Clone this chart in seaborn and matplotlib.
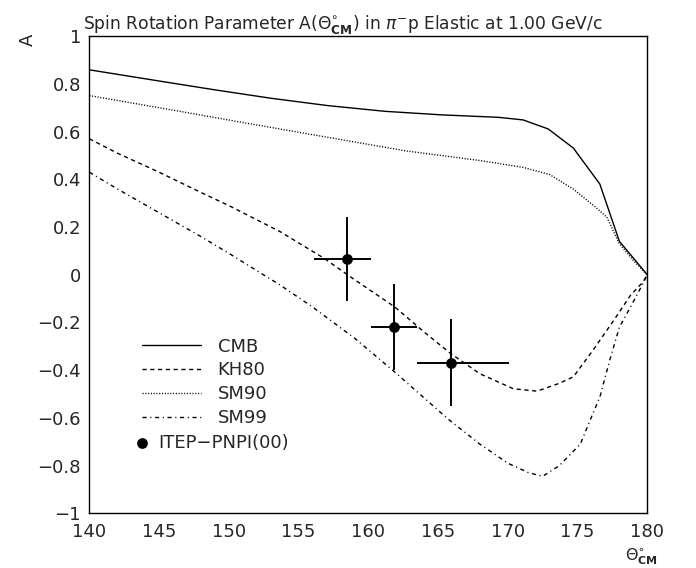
import numpy as np
import pandas as pd
import seaborn as sns
import matplotlib.pyplot as plt
from matplotlib.ticker import MultipleLocator, FuncFormatter

# curves (theta in deg, A)
cmb_x = [140, 144.8, 148.9, 153, 157.1, 161.2, 165.3, 169.3, 171.1, 172.9, 174.7, 176.6, 178, 180]
cmb_y = [0.859, 0.814, 0.776, 0.740, 0.709, 0.685, 0.670, 0.660, 0.649, 0.611, 0.531, 0.380, 0.14, 0.0]

kh80_x = [140, 142, 145, 148, 150, 153.7, 156.8, 159, 161.9, 164, 165.9, 168, 170.4, 172.1,
          173.7, 174.7, 176.1, 177.6, 178.8, 179.7, 180]
kh80_y = [0.57, 0.51, 0.43, 0.345, 0.29, 0.18, 0.07, -0.02, -0.135, -0.24, -0.33, -0.415, -0.478, -0.488,
          -0.455, -0.428, -0.317, -0.191, -0.086, -0.03, 0.0]

sm90_x = [140, 146.2, 151.6, 157.1, 162.6, 168.1, 171.1, 173, 174.7, 176.3, 177.1, 178, 179, 180]
sm90_y = [0.751, 0.688, 0.632, 0.576, 0.520, 0.478, 0.450, 0.420, 0.359, 0.283, 0.241, 0.13, 0.06, 0.0]

sm99_x = [140, 142, 145, 148, 150, 153.7, 156, 159, 161.9, 165.7, 168, 170, 171.5, 172.5,
          173.7, 175.2, 175.9, 176.6, 177.3, 178, 178.8, 179.5, 180]
sm99_y = [0.43, 0.36, 0.26, 0.16, 0.09, -0.044, -0.135, -0.265, -0.408, -0.604, -0.71, -0.79, -0.83, -0.845,
          -0.80, -0.71, -0.61, -0.513, -0.36, -0.22, -0.135, -0.058, 0.0]

# ITEP-PNPI(00) data: bin edges, centres, values, errors
itep_edges = [156.1, 160.2, 163.5, 170.1]
itep_x = [158.45, 161.85, 165.9]
itep_y = [0.065, -0.219, -0.369]
itep_err = [0.175, 0.182, 0.182]

sns.set_style("white")
plt.rcParams['font.family'] = ['DejaVu Sans']
plt.rcParams['mathtext.fontset'] = 'dejavusans'

fig = plt.figure(figsize=(6.96, 5.68), dpi=100)
ax = fig.add_axes([0.1283, 0.0963, 0.8017, 0.840])

curves = [
    ('CMB', cmb_x, cmb_y, (None, None)),
    ('KH80', kh80_x, kh80_y, (3.0, 2.6)),
    ('SM90', sm90_x, sm90_y, (0.8, 1.2)),
    ('SM99', sm99_x, sm99_y, (3.0, 2.6, 0.8, 2.6)),
]
for name, xs, ys, dash in curves:
    df = pd.DataFrame({'theta': xs, 'A': ys})
    sns.lineplot(data=df, x='theta', y='A', ax=ax, color='black', lw=1.0,
                 label=name, sort=False, estimator=None)
    if dash[0] is not None:
        ax.lines[-1].set_dashes(dash)

xerr_lo = [c - e for c, e in zip(itep_x, itep_edges[:-1])]
xerr_hi = [e - c for c, e in zip(itep_x, itep_edges[1:])]
ax.errorbar(itep_x, itep_y, xerr=[xerr_lo, xerr_hi], yerr=itep_err, fmt='none',
            ecolor='black', elinewidth=1.4, capsize=0)
pts = sns.scatterplot(x=itep_x, y=itep_y, ax=ax, color='black', s=60, edgecolor='black',
                      linewidth=0, zorder=5)

ax.set_xlim(140, 180)
ax.set_ylim(-1, 1)
ax.xaxis.set_major_locator(MultipleLocator(5))
ax.xaxis.set_minor_locator(MultipleLocator(1))
ax.yaxis.set_major_locator(MultipleLocator(0.2))
ax.yaxis.set_minor_locator(MultipleLocator(0.05))
ax.yaxis.set_major_formatter(FuncFormatter(
    lambda v, p: '0' if abs(v) < 1e-9 else ('%g' % round(v, 1)).replace('-', '\u2212')))
ax.tick_params(which='both', direction='in', top=False, right=False, labelsize=13,
               color='black', width=1)
ax.tick_params(which='major', length=9, pad=6)
ax.tick_params(which='minor', length=4.5)
ax.tick_params(axis='x', which='major', pad=7)
for s in ax.spines.values():
    s.set_color('black')
    s.set_linewidth(1.0)
ax.set_xlabel('')
ax.set_ylabel('')

handles, labels = ax.get_legend_handles_labels()
leg1 = ax.legend(handles[:4], labels[:4], loc='upper left', bbox_to_anchor=(0.094, 0.368),
                 frameon=False, fontsize=13, handlelength=3.3, handletextpad=0.9,
                 labelspacing=0.32, borderaxespad=0, borderpad=0)
ax.add_artist(leg1)
ax.legend([ax.collections[-1]], ['ITEP\u2212PNPI(00)'], loc='upper left',
          bbox_to_anchor=(0.078, 0.167), frameon=False, fontsize=13, handlelength=1.0,
          handletextpad=0.4, borderaxespad=0, borderpad=0, scatterpoints=1)

fig.text(0.119, 0.956, r'Spin Rotation Parameter A($\Theta^{\circ}_{\mathbf{CM}}$) in $\pi^{-}$p Elastic at 1.00 GeV/c',
         fontsize=12.3, ha='left', va='center')
fig.text(0.040, 0.93, 'A', fontsize=13, rotation=90, ha='center', va='center')
fig.text(0.922, 0.002, r'$\Theta^{\circ}_{\mathbf{CM}}$', fontsize=11.5, ha='center', va='bottom')

fig.savefig('out.png', dpi=100)
